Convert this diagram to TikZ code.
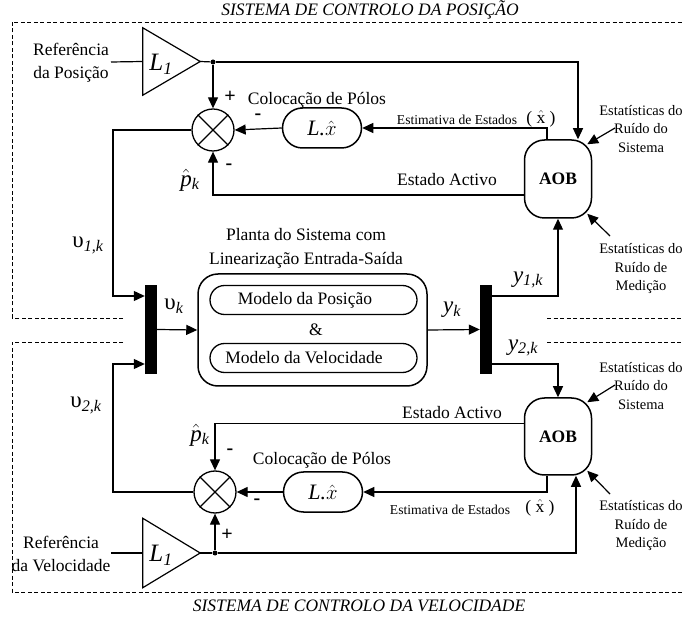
\documentclass[tikz,border=0pt]{standalone}
\usepackage{fontspec}
\setmainfont{Liberation Serif}
\usetikzlibrary{arrows.meta,shapes.misc,shapes.geometric}
\newcommand\fsz[2]{\fontsize{#1}{#2}\selectfont}
\begin{document}
\begin{tikzpicture}[x=1pt,y=-1pt,
  ln/.style={line width=1.2pt},
  arr/.style={line width=1.2pt,-{Triangle[length=11pt,width=10pt]}},
  dashbox/.style={line width=0.7pt,dash pattern=on 4pt off 2.5pt},
  sumnode/.style={circle,draw,line width=1.3pt,minimum size=42pt,inner sep=0pt},
  lbox/.style={rounded rectangle,draw,line width=1.5pt,minimum width=79pt,minimum height=40pt,inner sep=0pt,font=\fsz{22}{25}\itshape},
  aob/.style={rectangle,rounded corners=20pt,draw,line width=1.5pt,minimum width=67pt,minimum height=78pt,font=\fsz{17.5}{21}\bfseries},
  txt/.style={font=\fsz{17.5}{23},inner sep=0pt},
  small/.style={font=\fsz{13.6}{16},inner sep=0pt},
  stat/.style={font=\fsz{14.5}{18.5},align=center,inner sep=0pt},
  sign/.style={font=\fsz{20}{22}\bfseries,inner sep=0pt},
  sym/.style={font=\fsz{23}{26},inner sep=0pt},
  title/.style={font=\fsz{17.5}{21}\itshape,inner sep=0pt},
  barnode/.style={fill=black,minimum width=12pt,minimum height=89pt,inner sep=0pt},
  dotnode/.style={circle,fill=black,inner sep=0pt,minimum size=5pt},
  gain/.style={inner sep=0pt,minimum width=57pt,minimum height=67pt},
  model/.style={rounded rectangle,draw,line width=1.3pt,minimum width=207pt,minimum height=29pt,inner sep=0pt}
]
\useasboundingbox (0,0) rectangle (683,617);

% dashed frames
\draw[dashbox] (123,318) -- (12,318) -- (12,22) -- (683,22);
\draw[dashbox] (547,318) -- (683,318);
\draw[dashbox] (123,342) -- (12,342) -- (12,592) -- (683,592);
\draw[dashbox] (547,342) -- (683,342);
\node[title] (t1) at (370,10) {SISTEMA DE CONTROLO DA POSIÇÃO};
\node[title] (t2) at (359,606) {SISTEMA DE CONTROLO DA VELOCIDADE};

% ---------- plant ----------
\node[draw,rounded corners=20pt,line width=1.5pt,minimum width=229pt,minimum height=112pt,inner sep=0pt] (plant) at (312.5,330) {};
\node[model] (mpos) at (313.5,300) {};
\node[txt] (mposT) at (305,300) {Modelo da Posição};
\node[txt] (amp) at (316,330) {\&};
\node[model] (mvel) at (313.5,358) {};
\node[txt] (mvelT) at (304,358) {Modelo da Velocidade};
\node[txt] (pl1) at (306,235) {Planta do Sistema com};
\node[txt] (pl2) at (306,260) {Linearização Entrada-Saída};
\node[barnode] (barL) at (151,329.5) {};
\node[barnode] (barR) at (486,329.5) {};
\draw[arr] (barL.east) -- (plant.west);
\draw[arr] (plant.east) -- (barR.west);
\node[sym] (vk) at (174,306) {υ\textsubscript{\itshape k}};
\node[sym] (yk) at (452,310) {\itshape y\textsubscript{k}};

% ---------- top loop ----------
\node[txt,align=center] (refA) at (71,63) {Referência\\da Posição};
\coordinate (inA) at (111,62);
\node[gain] (L1a) at (171.5,61.5) {};
\draw[ln,line join=miter] (L1a.north west) -- (L1a.east) -- (L1a.south west) -- cycle;
\node[sym] (L1aT) at (161,64) {\fsz{25}{27}\itshape L\textsubscript{1}};
\draw[ln] (inA) -- (L1a.west);
\node[dotnode] (dot1) at (213,62) {};
\draw[ln] (L1a.east) -- (dot1);
\node[sumnode] (sum1) at (213,130) {};
\draw[ln] (sum1.north west) -- (sum1.south east) (sum1.north east) -- (sum1.south west);
\node[lbox] (Lx1) at (322,128) {L.$\hat{x}$};
\node[aob] (AOB1) at (558,179) {AOB};
\draw[arr] (dot1) -- (sum1.north);
\draw[arr] (dot1) -| ([xshift=20pt]AOB1.north);
\draw[arr] (Lx1.west) -- (sum1.east);
\draw[arr] ([xshift=-11pt]AOB1.north) |- (Lx1.east);
\draw[arr] ([yshift=-16pt]AOB1.west) -| (sum1.south);
\coordinate (k1) at (113,130);
\draw[arr] (sum1.west) -- (k1) |- ([yshift=33.5pt]barL.west);
\draw[arr] ([yshift=33.5pt]barR.east) -| (AOB1.south);
\node[sign] (pA) at (230,97) {+};
\node[sign] (mA1) at (258,117) {-};
\node[sign] (mA2) at (229,167) {-};
\node[sym] (phA) at (190,180) {$\hat{\mbox{\itshape p}}$\textsubscript{\itshape k}};
\node[txt] (colA) at (317,100) {Colocação de Pólos};
\node[small] (estA) at (457,120) {Estimativa de Estados};
\node[txt] (xhA) at (541,119) {( $\hat{\mbox{x}}$ )};
\node[txt] (actA) at (447,180) {Estado Activo};
\node[sym] (v1) at (88,245) {υ\textsubscript{\itshape 1,k}};
\node[sym] (y1) at (528,280) {\itshape y\textsubscript{1,k}};
\node[stat] (stA1) at (641,129) {Estatísticas do\\Ruído do\\Sistema};
\coordinate (sa1) at (615,128);
\draw[arr] (sa1) -- ([xshift=-5pt,yshift=-5pt]AOB1.north east);
\node[stat] (stA2) at (641,269) {Estatísticas do\\Ruído de\\Medição};
\coordinate (sa2) at (610,236);
\draw[arr] (sa2) -- ([xshift=-5pt,yshift=5pt]AOB1.south east);

% ---------- bottom loop ----------
\node[txt,align=center] (refB) at (61,554) {Referência\\da Velocidade};
\coordinate (inB) at (111,553);
\node[gain,minimum height=69pt] (L1b) at (171.5,553) {};
\draw[ln,line join=miter] (L1b.north west) -- (L1b.east) -- (L1b.south west) -- cycle;
\node[sym] (L1bT) at (161,555) {\fsz{25}{27}\itshape L\textsubscript{1}};
\draw[ln] (inB) -- (L1b.west);
\node[dotnode] (dot2) at (215,553) {};
\draw[ln] (L1b.east) -- (dot2);
\node[sumnode] (sum2) at (215,492) {};
\draw[ln] (sum2.north west) -- (sum2.south east) (sum2.north east) -- (sum2.south west);
\node[lbox] (Lx2) at (323,492) {L.$\hat{x}$};
\node[aob,minimum height=77pt] (AOB2) at (558,436.5) {AOB};
\draw[arr] (dot2) -- (sum2.south);
\draw[arr] (dot2) -| ([xshift=18pt]AOB2.south);
\draw[arr] (Lx2.west) -- (sum2.east);
\draw[arr] ([xshift=-11pt]AOB2.south) |- (Lx2.east);
\draw[arr] ([yshift=13pt]AOB2.west) -| (sum2.north);
\coordinate (k2) at (113,492);
\draw[arr] (sum2.west) -- (k2) |- ([yshift=-34.5pt]barL.west);
\draw[arr] ([yshift=-34.5pt]barR.east) -| (AOB2.north);
\node[sign] (pB) at (227,535) {+};
\node[sign] (mB1) at (257,502) {-};
\node[sign] (mB2) at (230,452) {-};
\node[sym] (phB) at (200,435) {$\hat{\mbox{\itshape p}}$\textsubscript{\itshape k}};
\node[txt] (colB) at (322,460) {Colocação de Pólos};
\node[small] (estB) at (450,510) {Estimativa de Estados};
\node[txt] (xhB) at (540,508) {( $\hat{\mbox{x}}$ )};
\node[txt] (actB) at (452,413) {Estado Activo};
\node[sym] (v2) at (86,405) {υ\textsubscript{\itshape 2,k}};
\node[sym] (y2) at (523,348) {\itshape y\textsubscript{2,k}};
\node[stat] (stB1) at (641,386) {Estatísticas do\\Ruído do\\Sistema};
\coordinate (sb1) at (615,385);
\draw[arr] (sb1) -- ([xshift=-5pt,yshift=-5pt]AOB2.north east);
\node[stat] (stB2) at (641,526) {Estatísticas do\\Ruído de\\Medição};
\coordinate (sb2) at (610,494);
\draw[arr] (sb2) -- ([xshift=-5pt,yshift=5pt]AOB2.south east);
\end{tikzpicture}
\end{document}
